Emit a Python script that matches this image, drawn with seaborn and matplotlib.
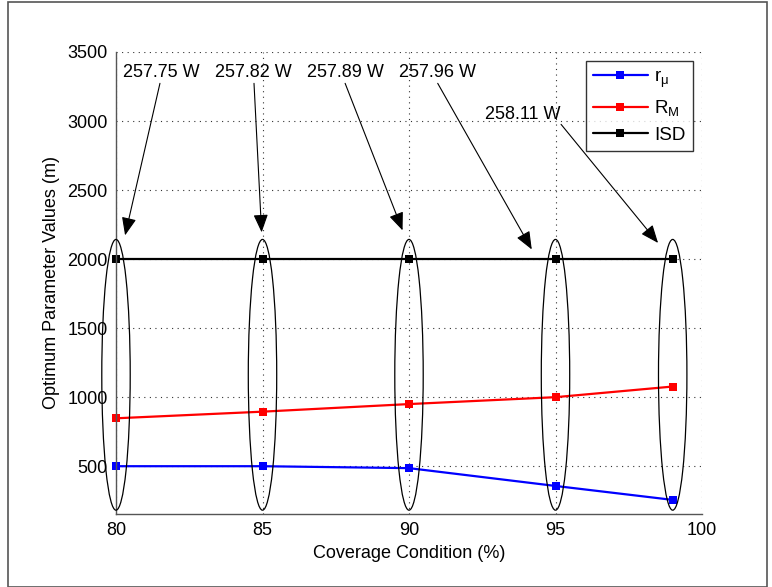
import matplotlib
matplotlib.use("Agg")
import matplotlib.pyplot as plt
from matplotlib.patches import Ellipse, Rectangle
from matplotlib.ticker import MultipleLocator
import seaborn as sns
import pandas as pd

# ---- data ----
coverage = [80, 85, 90, 95, 99]
r_mu = [500, 500, 486, 357, 256]
R_M = [847, 895, 950, 1000, 1077]
ISD = [2000, 2000, 2000, 2000, 2000]
power_labels = ["257.75 W", "257.82 W", "257.89 W", "257.96 W", "258.11 W"]
# annotation anchor points in data units (text position, arrow tail, arrow tip)
text_xy = [(81.54, 3353), (84.68, 3353), (87.82, 3353), (90.98, 3353), (93.88, 3049)]
tail_xy = [(81.50, 3273), (84.71, 3273), (87.82, 3273), (90.98, 3273), (95.19, 2976)]
tip_xy = [(80.31, 2172), (84.97, 2194), (89.78, 2208), (94.19, 2070), (98.50, 2117)]
x_ticks = [80, 85, 90, 95, 100]
y_ticks = [500, 1000, 1500, 2000, 2500, 3000, 3500]

sns.set_style("white")
plt.rcParams["font.family"] = ["Liberation Sans", "DejaVu Sans"]
plt.rcParams["mathtext.fontset"] = "custom"
plt.rcParams["mathtext.rm"] = "Liberation Sans"
plt.rcParams["mathtext.it"] = "Liberation Sans"
plt.rcParams["text.color"] = "black"
plt.rcParams["axes.labelcolor"] = "black"

fig = plt.figure(figsize=(7.72, 5.87), dpi=100)
ax = fig.add_axes([116 / 772, 1 - 513.7 / 587, (702 - 116) / 772, (513.7 - 52) / 587])

df = pd.DataFrame({"x": coverage, "r": r_mu, "R": R_M, "I": ISD})
line_kw = dict(marker="s", markersize=5.5, markeredgewidth=0, linewidth=1.6, clip_on=False)
sns.lineplot(data=df, x="x", y="r", ax=ax, color="#0000ff", label=r"$\mathrm{r}_{\mu}$", **line_kw)
sns.lineplot(data=df, x="x", y="R", ax=ax, color="#ff0000", label=r"$\mathrm{R}_{\mathrm{M}}$", **line_kw)
sns.lineplot(data=df, x="x", y="I", ax=ax, color="black", label="ISD", **line_kw)

# ellipses around each coverage condition
for cx in coverage:
    ax.add_patch(Ellipse((cx, 1162), width=0.97, height=1961, fill=False,
                         edgecolor="black", linewidth=0.9, clip_on=False, zorder=3))

# annotations
for lab, t, s, h in zip(power_labels, text_xy, tail_xy, tip_xy):
    ax.text(t[0], t[1], lab, ha="center", va="center", fontsize=13, color="black")
    ax.annotate("", xy=h, xytext=s,
                arrowprops=dict(arrowstyle="-|>,head_length=1.1,head_width=0.45",
                                color="black", lw=0.8, shrinkA=0, shrinkB=0))

ax.set_xlim(80, 100)
ax.set_ylim(156, 3500)
ax.set_xticks(x_ticks)
ax.set_yticks(y_ticks)
ax.yaxis.set_minor_locator(MultipleLocator(100))
ax.tick_params(axis="both", which="major", direction="in", length=4, width=0.8,
               color="#444444", labelcolor="black", labelsize=13, pad=6)
ax.tick_params(axis="y", which="minor", direction="in", length=2, width=0.6, color="#666666")
ax.tick_params(axis="x", which="minor", length=0)

ax.grid(True, which="major", linestyle=(0, (1, 4)), color="#333333", linewidth=0.8)
ax.set_axisbelow(True)
for side in ["top", "right"]:
    ax.spines[side].set_visible(False)
for side in ["left", "bottom"]:
    ax.spines[side].set_color("#555555")
    ax.spines[side].set_linewidth(1.0)

ax.set_xlabel("Coverage Condition (%)", fontsize=13, labelpad=4, color="black")
ax.set_ylabel("Optimum Parameter Values (m)", fontsize=13, labelpad=5, color="black")

leg = ax.legend(loc="upper right", bbox_to_anchor=(1 - 9 / 586, 1 - 9 / 461.7),
                borderaxespad=0, frameon=True, fancybox=False, fontsize=13.5,
                handlelength=2.9, labelspacing=0.45, borderpad=0.4, handletextpad=0.35)
leg.get_frame().set_edgecolor("black")
leg.get_frame().set_linewidth(1.0)
for txt in leg.get_texts():
    txt.set_color("black")

fig.patches.append(Rectangle((8 / 772, 0.5 / 587), (767 - 8) / 772, (586 - 1) / 587,
                             transform=fig.transFigure, fill=False,
                             edgecolor="#555555", linewidth=1.2))

fig.savefig("out.png", dpi=100)
